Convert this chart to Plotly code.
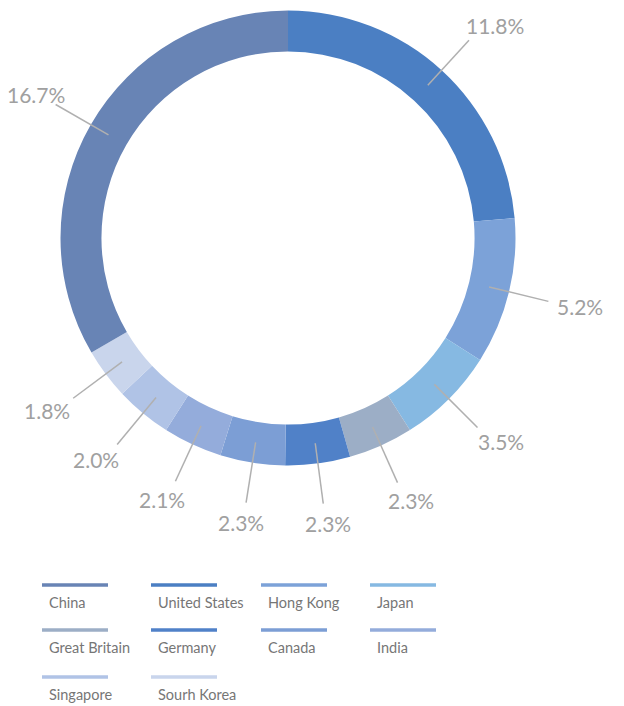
import math
import plotly.graph_objects as go

# ---- data ----
countries = ["United States", "Hong Kong", "Japan", "Great Britain", "Germany",
             "Canada", "India", "Singapore", "South Korea", "China"]
shares = [11.8, 5.2, 3.5, 2.3, 2.3, 2.3, 2.1, 2.0, 1.8, 16.7]
legend_names = ["United States", "Hong Kong", "Japan", "Great Britain", "Germany",
                "Canada", "India", "Singapore", "Sourh Korea", "China"]
colors = ["#4b7fc3", "#7ca2d8", "#86b9e2", "#9caec6", "#5081c8",
          "#7c9ed5", "#94acdb", "#b0c3e6", "#c9d5ec", "#6884b5"]

# ---- layout constants (pixels) ----
W, H = 624, 706
CX, CY, R = 288, 238, 227.5
HOLE = 0.82
R_MID = R * (1 + HOLE) / 2
R_LINE_END = 268
R_TEXT = 277
LABEL_FS = 21
LABEL_COLOR = "#a0a0a0"
LINE_COLOR = "#b0b0b0"


def px(x):
    return x / W


def py(y):
    return 1 - y / H


fig = go.Figure(go.Pie(
    labels=countries,
    values=shares,
    sort=False,
    direction="clockwise",
    rotation=0,
    hole=HOLE,
    marker=dict(colors=colors, line=dict(width=0)),
    textinfo="none",
    hoverinfo="label+value",
    showlegend=False,
    domain=dict(x=[px(CX - R), px(CX + R)], y=[py(CY + R), py(CY - R)]),
))

shapes = []
annotations = []

total = sum(shares)
cum = 0.0
for name, v in zip(countries, shares):
    mid = (cum + v / 2) / total * 2 * math.pi
    cum += v
    s, c = math.sin(mid), math.cos(mid)
    x0, y0 = CX + R_MID * s, CY - R_MID * c
    x1, y1 = CX + R_LINE_END * s, CY - R_LINE_END * c
    shapes.append(dict(type="line", xref="paper", yref="paper",
                       x0=px(x0), y0=py(y0), x1=px(x1), y1=py(y1),
                       line=dict(color=LINE_COLOR, width=1.5)))
    txt = f"{v:.1f}%"
    tw = 12.0 * len(txt)
    th = 22
    tx = CX + R_TEXT * s + s * tw / 2
    ty = CY - R_TEXT * c - c * th / 2
    tx = min(max(tx, tw / 2 + 6), W - tw / 2 - 4)
    annotations.append(dict(xref="paper", yref="paper", x=px(tx), y=py(ty),
                            text=txt, showarrow=False, xanchor="center",
                            yanchor="middle",
                            font=dict(family="Lato", size=LABEL_FS, color=LABEL_COLOR)))

# ---- custom legend (line above label, 4 columns) ----
order = [len(countries) - 1] + list(range(len(countries) - 1))
col_x = [42, 151, 261, 370]
row_y = [585, 630, 677]
LEG_LEN = 66
for k, idx in enumerate(order):
    r, cidx = divmod(k, 4)
    lx, ly = col_x[cidx], row_y[r]
    shapes.append(dict(type="line", xref="paper", yref="paper",
                       x0=px(lx), y0=py(ly), x1=px(lx + LEG_LEN), y1=py(ly),
                       line=dict(color=colors[idx], width=3.5)))
    annotations.append(dict(xref="paper", yref="paper", x=px(lx + 5), y=py(ly + 17),
                            text=legend_names[idx], showarrow=False,
                            xanchor="left", yanchor="middle",
                            font=dict(family="Lato", size=14.5, color="#767676")))

fig.update_layout(
    width=W, height=H,
    margin=dict(l=0, r=0, t=0, b=0),
    paper_bgcolor="white",
    plot_bgcolor="white",
    shapes=shapes,
    annotations=annotations,
)

fig.write_html("out.html",
               config={"displayModeBar": False},
               post_script="document.body.style.margin='0';document.body.style.overflow='hidden';")
